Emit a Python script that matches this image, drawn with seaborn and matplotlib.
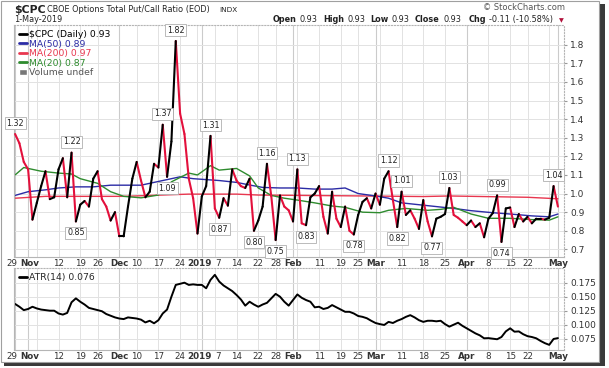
import numpy as np
import pandas as pd
import matplotlib
matplotlib.use("Agg")
import matplotlib.pyplot as plt
from matplotlib.lines import Line2D
from matplotlib.patches import Rectangle
import seaborn as sns

# trading days Oct 29 2018 - May 1 2019
holidays = ["2018-11-22", "2018-12-05", "2018-12-25", "2019-01-01",
            "2019-01-21", "2019-02-18", "2019-04-19"]

# $CPC daily close
close = [
    1.32, 1.27, 1.17, 1.13, 0.86, 0.95, 1.04, 1.12, 0.97, 0.98,
    1.13, 1.19, 0.98, 1.22, 0.85, 0.94, 0.96, 0.93, 1.08, 1.12,
    0.97, 0.93, 0.855, 0.90, 0.77, 0.77, 0.93, 1.08, 1.17, 1.07,
    0.98, 1.01, 1.16, 1.14, 1.37, 1.09, 1.28, 1.82, 1.43, 1.32,
    1.08, 0.975, 0.785, 0.985, 1.04, 1.31, 0.92, 0.87, 0.975, 0.935,
    1.13, 1.07, 1.04, 1.03, 1.08, 0.80, 0.855, 0.93, 1.16, 0.985,
    0.75, 0.99, 0.93, 0.91, 0.85, 1.13, 0.84, 0.83, 0.98, 1.00,
    1.04, 0.875, 0.785, 1.01, 0.865, 0.82, 0.93, 0.80, 0.78, 0.885,
    0.955, 0.975, 0.92, 1.00, 0.94, 1.08, 1.12, 0.965, 0.82, 1.01,
    0.885, 0.91, 0.865, 0.81, 0.965, 0.85, 0.77, 0.865, 0.875, 0.89,
    1.03, 0.885, 0.87, 0.85, 0.83, 0.855, 0.82, 0.84, 0.765, 0.865,
    0.895, 0.99, 0.74, 0.92, 0.925, 0.82, 0.89, 0.85, 0.875, 0.84,
    0.865, 0.865, 0.86, 0.87, 1.04, 0.93]

# moving averages, sampled at day index
ma50_day = [0, 3, 7, 10, 14, 18, 22, 25, 29, 34, 38, 41, 47, 51, 54, 57, 61, 65, 69, 73,
            76, 79, 83, 86, 89, 93, 97, 101, 105, 110, 114, 119, 123, 125]
ma50 = [0.99, 1.01, 1.02, 1.03, 1.036, 1.036, 1.045, 1.045, 1.045, 1.07, 1.09, 1.08, 1.07,
        1.06, 1.046, 1.033, 1.03, 1.03, 1.024, 1.024, 1.03, 1.0, 0.987, 0.975, 0.95, 0.94,
        0.93, 0.92, 0.908, 0.897, 0.89, 0.88, 0.875, 0.89]
ma200_day = [0, 7, 25, 40, 51, 56, 76, 94, 100, 118, 125]
ma200 = [0.975, 0.985, 0.985, 0.997, 0.997, 0.992, 0.988, 0.984, 0.987, 0.98, 0.972]
ma20_day = [0, 2, 6, 10, 13, 15, 19, 22, 25, 29, 33, 36, 40, 42, 45, 47, 51, 54, 56, 59,
            62, 65, 69, 73, 76, 80, 84, 86, 90, 95, 98, 101, 105, 109, 114, 119, 123, 125]
ma20 = [1.10, 1.14, 1.12, 1.11, 1.105, 1.08, 1.055, 1.01, 0.985, 0.977, 0.992, 1.063, 1.11,
        1.10, 1.15, 1.126, 1.135, 1.095, 1.03, 0.99, 0.975, 0.965, 0.95, 0.933, 0.926, 0.90,
        0.897, 0.91, 0.92, 0.91, 0.915, 0.926, 0.89, 0.867, 0.867, 0.86, 0.857, 0.875]

# ATR(14) daily
atr = [
    0.137, 0.132, 0.126, 0.128, 0.132, 0.129, 0.127, 0.126, 0.125, 0.125,
    0.120, 0.118, 0.121, 0.140, 0.147, 0.141, 0.136, 0.130, 0.128, 0.126,
    0.124, 0.119, 0.116, 0.113, 0.111, 0.110, 0.113, 0.112, 0.111, 0.109,
    0.104, 0.107, 0.1025, 0.108, 0.120, 0.127, 0.150, 0.171, 0.173, 0.175,
    0.171, 0.172, 0.171, 0.171, 0.165, 0.180, 0.189, 0.177, 0.170, 0.165,
    0.160, 0.153, 0.145, 0.134, 0.141, 0.136, 0.132, 0.136, 0.139, 0.147,
    0.155, 0.150, 0.141, 0.134, 0.144, 0.154, 0.148, 0.144, 0.141, 0.131,
    0.132, 0.128, 0.130, 0.135, 0.131, 0.127, 0.123, 0.123, 0.120, 0.1155,
    0.114, 0.1115, 0.107, 0.103, 0.101, 0.0995, 0.105, 0.103, 0.107, 0.110,
    0.114, 0.117, 0.113, 0.108, 0.105, 0.107, 0.107, 0.106, 0.107, 0.101,
    0.0965, 0.100, 0.1035, 0.098, 0.0935, 0.089, 0.0845, 0.081, 0.0757, 0.076,
    0.075, 0.074, 0.078, 0.088, 0.0935, 0.0875, 0.088, 0.083, 0.0795, 0.078,
    0.0757, 0.071, 0.067, 0.064, 0.0745, 0.076]

peak_idx = [0, 13, 34, 37, 45, 58, 65, 86, 89, 100, 111, 124]
trough_idx = [14, 35, 47, 55, 60, 67, 78, 88, 96, 112]

tick_dates = ["2018-10-29", "2018-11-01", "2018-11-12", "2018-11-19", "2018-11-26",
              "2018-12-03", "2018-12-10", "2018-12-17", "2018-12-24", "2019-01-02",
              "2019-01-07", "2019-01-14", "2019-01-22", "2019-01-28", "2019-02-01",
              "2019-02-11", "2019-02-19", "2019-02-25", "2019-03-01", "2019-03-11",
              "2019-03-18", "2019-03-25", "2019-04-01", "2019-04-08", "2019-04-15",
              "2019-04-22", "2019-05-01"]
tick_text = ["29", "Nov", "12", "19", "26", "Dec", "10", "17", "24", "2019", "7", "14",
             "22", "28", "Feb", "11", "19", "25", "Mar", "11", "18", "25", "Apr", "8",
             "15", "22", "May"]
bold_ticks = {"Nov", "Dec", "2019", "Feb", "Mar", "Apr", "May"}
nudge = {"29": -2.5, "Nov": 1.5, "2019": -1.5, "7": 2.5}

dates = pd.bdate_range("2018-10-29", "2019-05-01")
dates = dates[~dates.isin(pd.to_datetime(holidays))]
day = np.arange(len(dates))

# up / down segments for the price line
rows = []
for i in range(len(close) - 1):
    d = "up" if close[i + 1] >= close[i] else "down"
    rows.append((i, i, close[i], d))
    rows.append((i, i + 1, close[i + 1], d))
seg = pd.DataFrame(rows, columns=["seg", "x", "y", "dir"])

sns.set_style("white")
plt.rcParams["font.family"] = ["DejaVu Sans"]

W, H = 609, 368
fig = plt.figure(figsize=(W / 100, H / 100), dpi=100)


def box(x0, y0, x1, y1):
    return [x0 / W, 1 - y1 / H, (x1 - x0) / W, (y1 - y0) / H]


# screenshot frame with shadow
fig.patches.append(Rectangle((4 / W, 1 - 366 / H), 601 / W, 362 / H,
                             transform=fig.transFigure, fc="#3a3a3a", ec="none", zorder=-3))
fig.patches.append(Rectangle((1 / W, 1 - 362 / H), 598 / W, 361 / H,
                             transform=fig.transFigure, fc="white", ec="#a0a0a0", lw=0.8, zorder=-2))

ax1 = fig.add_axes(box(14, 25, 564, 257))
ax2 = fig.add_axes(box(14, 268, 564, 350))

tick_pos = [dates.get_loc(pd.Timestamp(t)) for t in tick_dates]
week_start = [i for i in range(len(dates)) if i == 0 or dates[i].weekday() < dates[i - 1].weekday()]
month_start = [i for i in range(len(dates)) if i == 0 or dates[i].month != dates[i - 1].month]

for ax in (ax1, ax2):
    ax.set_facecolor("none")
    for p in week_start:
        ax.axvline(p, color="#e2e2e2", lw=0.7, zorder=0)
    for p in month_start:
        ax.axvline(p, color="#cbcbcb", lw=0.8, zorder=0)
    ax.grid(axis="y", color="#e2e2e2", lw=0.7)
    ax.set_axisbelow(True)
    ax.set_xlim(-0.25, 126.4)
    ax.yaxis.tick_right()
    ax.tick_params(axis="y", labelsize=6.5, length=2.5, color="#999999", pad=2, labelcolor="#333333")
    ax.set_xticks([])
    for p, t in zip(tick_pos, tick_text):
        ax.annotate(t, (p, 0), xycoords=("data", "axes fraction"),
                    xytext=(nudge.get(t, 0), -1.5), textcoords="offset points",
                    ha="center", va="top", fontsize=6.3, color="#333333",
                    fontweight="bold" if t in bold_ticks else "normal", annotation_clip=False)
    for s in ax.spines.values():
        s.set_color("#b5b5b5")
        s.set_linewidth(0.8)
    ax.spines["right"].set_linestyle(":")
    ax.spines["top"].set_linestyle(":")

# moving averages
sns.lineplot(x=ma200_day, y=ma200, ax=ax1, color="#e8374f", lw=1.0, zorder=2)
sns.lineplot(x=ma50_day, y=ma50, ax=ax1, color="#2b2ba5", lw=1.0, zorder=2)
sns.lineplot(x=ma20_day, y=ma20, ax=ax1, color="#2e8b2e", lw=1.0, zorder=2)

# price, black up / red down
sns.lineplot(data=seg, x="x", y="y", hue="dir", units="seg", estimator=None, sort=False,
             palette={"up": "black", "down": "#e3103c"}, lw=1.5, legend=False, ax=ax1, zorder=3)

ax1.set_ylim(0.659, 1.906)
ax1.set_yticks(np.arange(0.7, 1.85, 0.1))
ax1.set_yticklabels([f"{v:.1f}" for v in np.arange(0.7, 1.85, 0.1)])
ax1.set_xlabel("")
ax1.set_ylabel("")

for i in peak_idx:
    ax1.annotate(f"{close[i]:.2f}", (i, close[i]), xytext=(0, 4.5), textcoords="offset points",
                 ha="center", va="bottom", fontsize=5.8, color="#222222", zorder=6,
                 bbox=dict(boxstyle="square,pad=0.2", fc="white", ec="#b0b0b0", lw=0.6))
for i in trough_idx:
    ax1.annotate(f"{close[i]:.2f}", (i, close[i]), xytext=(0, -5), textcoords="offset points",
                 ha="center", va="top", fontsize=5.8, color="#222222", zorder=6,
                 bbox=dict(boxstyle="square,pad=0.2", fc="white", ec="#b0b0b0", lw=0.6))

handles = [Line2D([], [], color="black", lw=2),
           Line2D([], [], color="#2b2ba5", lw=2),
           Line2D([], [], color="#e8374f", lw=2),
           Line2D([], [], color="#2e8b2e", lw=2),
           Rectangle((0, 0), 1, 1, fc="#777777")]
labels = [r"\$CPC (Daily) 0.93", "MA(50) 0.89", "MA(200) 0.97", "MA(20) 0.87", "Volume undef"]
ax1.legend(handles, labels, loc="upper left", bbox_to_anchor=(0.0, 1.0), frameon=False,
           fontsize=6.7, handlelength=0.8, handleheight=0.6, handletextpad=0.3,
           labelspacing=0.05, borderaxespad=0.15,
           labelcolor=["black", "#2b2ba5", "#e8374f", "#2e8b2e", "#555555"])

# ATR panel
sns.lineplot(x=day, y=atr, ax=ax2, color="black", lw=1.4)
ax2.set_ylim(0.0548, 0.2012)
ax2.set_yticks([0.075, 0.1, 0.125, 0.15, 0.175])
ax2.set_yticklabels(["0.075", "0.100", "0.125", "0.150", "0.175"])
ax2.set_xlabel("")
ax2.set_ylabel("")
ax2.legend([Line2D([], [], color="black", lw=2)], ["ATR(14) 0.076"], loc="upper left",
           bbox_to_anchor=(0.0, 1.0), frameon=False, fontsize=6.7, handlelength=0.8,
           handletextpad=0.3, borderaxespad=0.15)

# header
fig.text(14 / W, 1 - 13 / H, r"\$CPC", fontsize=7.8, fontweight="bold", color="#222222")
fig.text(47 / W, 1 - 12.5 / H, "CBOE Options Total Put/Call Ratio (EOD)", fontsize=5.9, color="#222222")
fig.text(219 / W, 1 - 12.5 / H, "INDX", fontsize=5.2, color="#222222")
fig.text(14 / W, 1 - 22 / H, "1-May-2019", fontsize=5.9, color="#222222")
fig.text(565 / W, 1 - 10 / H, "\u00a9 StockCharts.com", fontsize=6, color="#555555", ha="right")

hdr = [(273, "Open", True), (300, "0.93", False), (323, "High", True), (347, "0.93", False),
       (370, "Low", True), (392, "0.93", False), (415, "Close", True), (443, "0.93", False),
       (469, "Chg", True), (489, "-0.11 (-10.58%)", False)]
for x, t, b in hdr:
    fig.text(x / W, 1 - 22 / H, t, fontsize=5.9, fontweight="bold" if b else "normal", color="#222222")
fig.text(559 / W, 1 - 22 / H, "\u25bc", fontsize=4.5, color="#b0103a")

fig.savefig("out.png", dpi=100)
